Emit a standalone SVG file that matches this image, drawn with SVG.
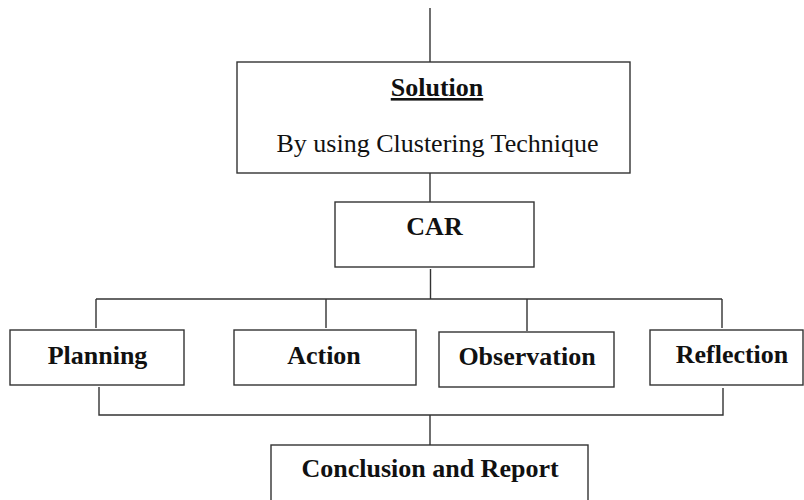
<svg xmlns="http://www.w3.org/2000/svg" width="804" height="500" viewBox="0 0 804 500">
<style>
.box{fill:#fff;stroke:#333;stroke-width:1.4}
.ln{fill:none;stroke:#333;stroke-width:1.4}
.t{font-family:"Liberation Serif","Times New Roman",serif;font-size:26px;fill:#111;text-anchor:middle}
.b{font-weight:bold}
</style>
<rect width="804" height="500" fill="#fff"/>
<g id="connectors">
<path class="ln" d="M430 8V62"/>
<path class="ln" d="M430 173V202"/>
<path class="ln" d="M430.5 269V299"/>
<path class="ln" d="M96 299H722"/>
<path class="ln" d="M96 299V328M326 299V328M527 299V331M722 299V328"/>
<path class="ln" d="M99 387V415H723V388"/>
<path class="ln" d="M430 415V445"/>
</g>
<g id="solution">
<rect class="box" x="237" y="62" width="393" height="111"/>
<text class="t b" x="437" y="96" text-decoration="underline">Solution</text>
<text class="t" x="437.5" y="152">By using Clustering Technique</text>
</g>
<g id="car">
<rect class="box" x="335" y="202" width="199" height="65"/>
<text class="t b" x="434.5" y="235">CAR</text>
</g>
<g id="planning">
<rect class="box" x="10" y="330" width="174" height="55"/>
<text class="t b" x="97.5" y="364">Planning</text>
</g>
<g id="action">
<rect class="box" x="234" y="330" width="182" height="55"/>
<text class="t b" x="324" y="364">Action</text>
</g>
<g id="observation">
<rect class="box" x="439" y="332" width="175" height="55"/>
<text class="t b" x="527" y="365">Observation</text>
</g>
<g id="reflection">
<rect class="box" x="650" y="330" width="153" height="55"/>
<text class="t b" x="732" y="363">Reflection</text>
</g>
<g id="conclusion">
<rect class="box" x="271" y="445" width="317" height="70"/>
<text class="t b" x="430" y="477">Conclusion and Report</text>
</g>
</svg>
